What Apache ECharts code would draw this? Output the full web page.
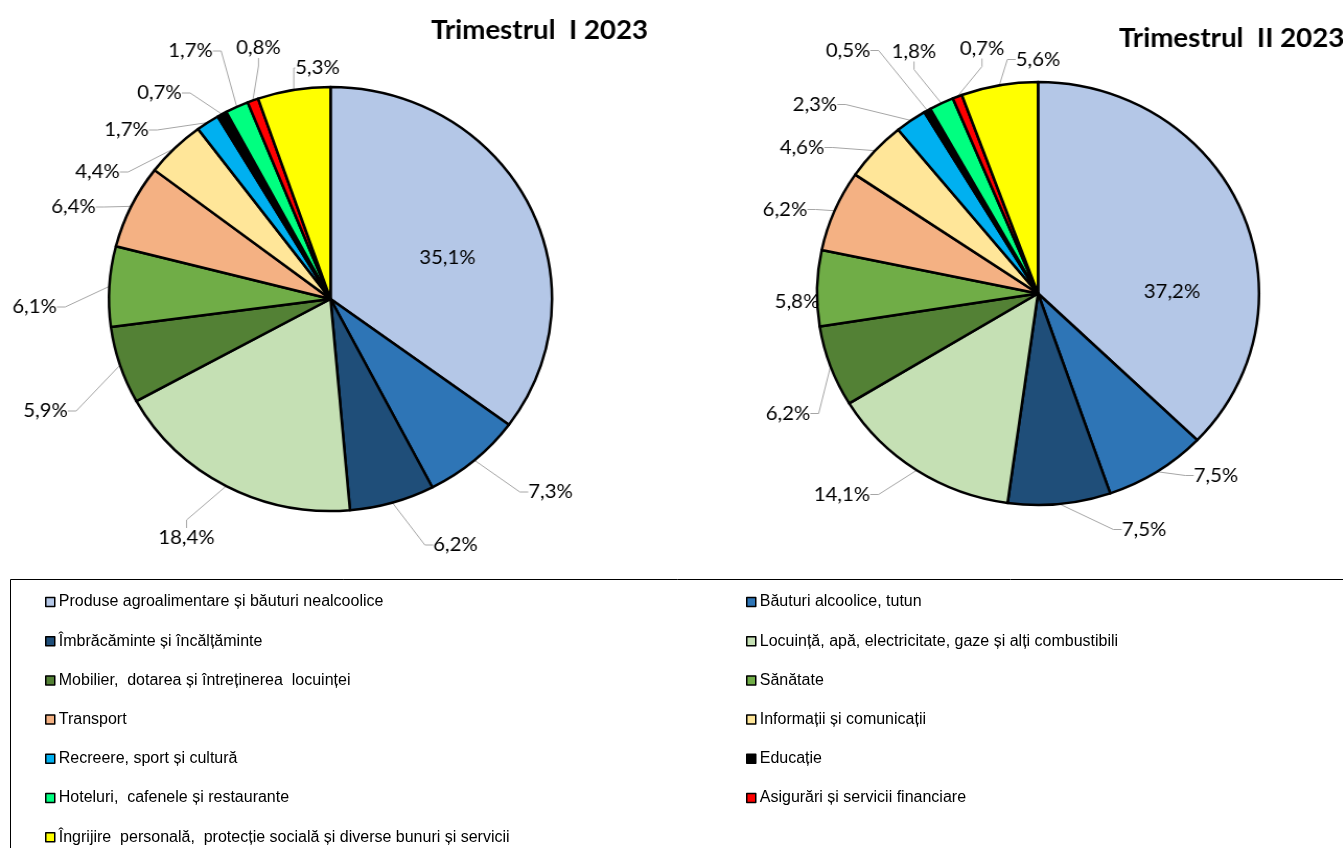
<!DOCTYPE html>
<html>
<head>
<meta charset="utf-8">
<script src="https://cdn.jsdelivr.net/npm/echarts@6/dist/echarts.min.js"></script>
<style>
html,body{margin:0;padding:0;background:#fff;}
#wrap{position:relative;width:1343px;height:848px;overflow:hidden;}
#pies{position:absolute;left:0;top:0;width:1285px;height:578px;transform:scaleX(1.045);transform-origin:0 0;}
#leg{position:absolute;left:0;top:0;width:1343px;height:848px;}
</style>
</head>
<body>
<div id="wrap">
  <div id="pies"></div>
  <div id="leg"></div>
</div>
<script>
const categories = [
  'Produse agroalimentare și băuturi nealcoolice',
  'Băuturi alcoolice, tutun',
  'Îmbrăcăminte și încălțăminte',
  'Locuință, apă, electricitate, gaze și alți combustibili',
  'Mobilier,  dotarea și întreținerea  locuinței',
  'Sănătate',
  'Transport',
  'Informații și comunicații',
  'Recreere, sport și cultură',
  'Educație',
  'Hoteluri,  cafenele și restaurante',
  'Asigurări și servicii financiare',
  'Îngrijire  personală,  protecție socială și diverse bunuri și servicii'
];
const q1Values = [35.1, 7.3, 6.2, 18.4, 5.9, 6.1, 6.4, 4.4, 1.7, 0.7, 1.7, 0.8, 5.3];
const q2Values = [37.2, 7.5, 7.5, 14.1, 6.2, 5.8, 6.2, 4.6, 2.3, 0.5, 1.8, 0.7, 5.6];
const titles = ['Trimestrul  I 2023', 'Trimestrul  II 2023'];
const colors = ['#B4C7E7', '#2E75B6', '#1F4E79', '#C5E0B4', '#538135', '#70AD47',
  '#F4B183', '#FFE699', '#00B0F0', '#000000', '#00FF80', '#FF0000', '#FFFF00'];

// ---- layout / style (not data) ----
// the original pies are slightly wider than tall: the pie canvas is stretched horizontally
const SX = 1.045;
const pieCenters = [[330.5, 299], [1038, 293.5]];   // page pixels
const pieRadii = [212, 211.5];                      // vertical radius
const titlePos = [[431, 17], [1119, 25]];
// where each value label sits, as an offset (page px) from its pie centre,
// like the manually placed labels of the original
const labelOffsets = [
  [[117, -41], [220, 193], [125, 246], [-144, 239], [-285, 112], [-296, 8], [-257, -92],
   [-233, -127], [-204, -169], [-171, -206], [-140, -248], [-72, -251], [-13, -231]],
  [[134, -2], [178, 182], [106, 236], [-196, 201], [-250, 120], [-241, 8], [-253, -84],
   [-236, -146], [-223, -189], [-190, -243], [-124, -242], [-56, -245], [0, -234]]
];

const labelFont = 'Lato, "Open Sans", sans-serif';
function fmt(p) { return p.value.toFixed(1).replace('.', ',') + '%'; }

function buildData(vals) {
  return categories.map((n, i) => {
    const d = { name: n, value: vals[i] };
    if (i === 0) { d.label = { position: 'inside' }; d.labelLine = { show: false }; }
    return d;
  });
}

function pieSeries(vals, k) {
  const c = [pieCenters[k][0] / SX, pieCenters[k][1]];
  return {
    type: 'pie',
    center: c,
    radius: pieRadii[k],
    startAngle: 90,
    clockwise: true,
    avoidLabelOverlap: false,
    data: buildData(vals),
    itemStyle: { borderColor: '#000', borderWidth: 2.5 },
    label: {
      show: true,
      position: 'outside',
      formatter: fmt,
      fontFamily: labelFont,
      fontSize: 19.5,
      color: '#000'
    },
    labelLine: {
      show: true,
      length: 20,
      length2: 8,
      lineStyle: { color: '#a6a6a6', width: 1 }
    },
    labelLayout: function (p) {
      const off = labelOffsets[k][p.dataIndex];
      return { x: c[0] + off[0] / SX, y: c[1] + off[1], align: 'center', verticalAlign: 'middle' };
    },
    emphasis: { disabled: true }
  };
}

const pies = echarts.init(document.getElementById('pies'), null, { renderer: 'canvas' });
pies.setOption({
  animation: false,
  color: colors,
  title: titles.map((t, k) => ({
    text: t, left: titlePos[k][0] / SX, top: titlePos[k][1], padding: 0,
    textStyle: { fontFamily: labelFont, fontWeight: 'bold', fontSize: 26.5, color: '#000' }
  })),
  series: [pieSeries(q1Values, 0), pieSeries(q2Values, 1)]
});

// ---- legend (unstretched); its items come from an off-screen copy of the category list ----
const leftNames = categories.filter((_, i) => i % 2 === 0);
const rightNames = categories.filter((_, i) => i % 2 === 1);
const legendCommon = {
  orient: 'vertical',
  top: 594,
  padding: 0,
  itemWidth: 9,
  itemHeight: 9,
  itemGap: 23.2,
  icon: 'rect',
  selectedMode: false,
  itemStyle: { borderColor: '#000', borderWidth: 1.5, opacity: 1 },
  textStyle: { fontFamily: '"Liberation Sans", Arial, sans-serif', fontSize: 16, color: '#000', lineHeight: 16, padding: [0, 0, 0, -1] }
};
const leg = echarts.init(document.getElementById('leg'), null, { renderer: 'canvas' });
leg.setOption({
  animation: false,
  color: colors,
  legend: [
    Object.assign({}, legendCommon, { left: 45, data: leftNames }),
    Object.assign({}, legendCommon, { left: 746, data: rightNames })
  ],
  graphic: [{
    type: 'rect',
    shape: { x: 10.5, y: 579.5, width: 1400, height: 300 },
    style: { fill: 'none', stroke: '#000', lineWidth: 1 },
    silent: true
  }],
  series: [{
    type: 'pie',
    center: [-400, -400],
    radius: 1,
    silent: true,
    label: { show: false },
    labelLine: { show: false },
    itemStyle: { borderColor: '#000', borderWidth: 1.5 },
    data: categories.map((n, i) => ({ name: n, value: q1Values[i] }))
  }]
});
</script>
</body>
</html>
